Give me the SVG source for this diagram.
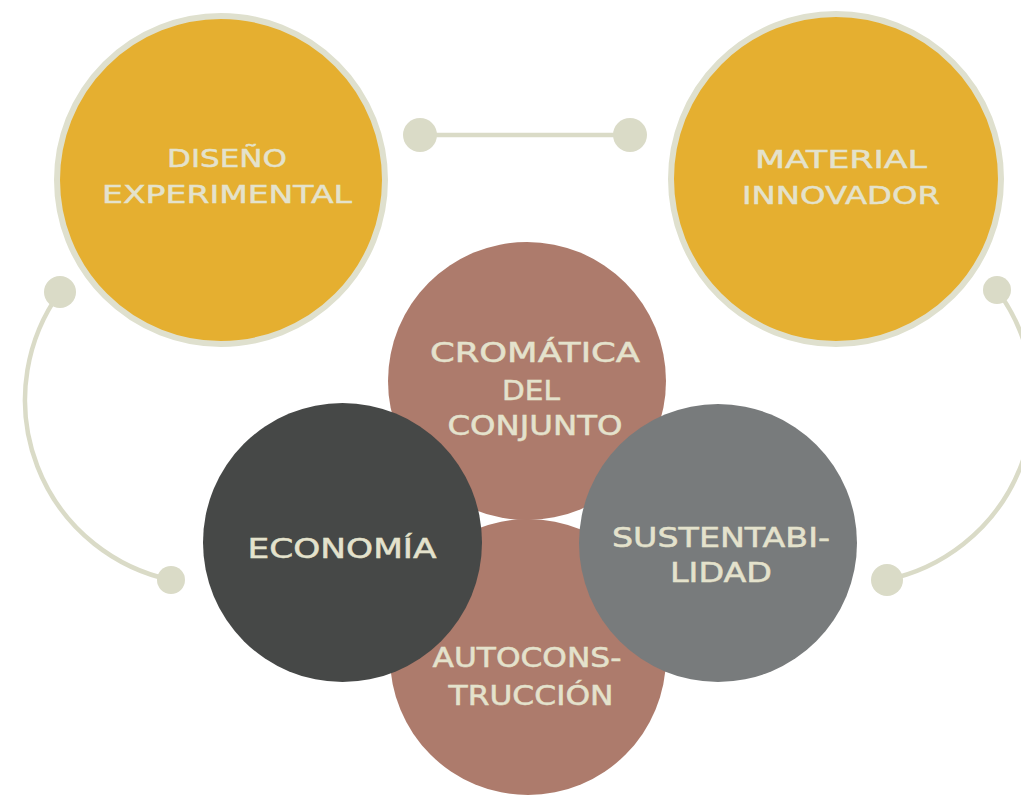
<svg xmlns="http://www.w3.org/2000/svg" width="1021" height="797" viewBox="0 0 1021 797">
<style>
.conn{fill:none;stroke:#dadbc7;stroke-width:4.5;stroke-linecap:round}
.dot{fill:#dadbc7}
.ring{fill:#e5af30;stroke:#dfe0ce;stroke-width:6}
.pink{fill:#ad7b6c}
.dark{fill:#464847}
.gray{fill:#787b7c}
.lbl{font-family:"DejaVu Sans","Liberation Sans",sans-serif;font-weight:normal;fill:#e4e2cc;text-anchor:middle;stroke:#e4e2cc;stroke-width:0.5}
.t25{font-size:25px}
.t26{font-size:26px}
</style>
<rect width="1021" height="797" fill="#ffffff"/>
<g id="connectors">
<line class="conn" x1="420" y1="135" x2="630" y2="135"/>
<circle class="dot" cx="420" cy="135" r="17"/>
<circle class="dot" cx="630" cy="135" r="17"/>
<path class="conn" d="M60,292 A184,184 0 0 0 171,580"/>
<circle class="dot" cx="60" cy="292" r="16"/>
<circle class="dot" cx="171" cy="580" r="14"/>
<path class="conn" d="M997,290 A184,184 0 0 1 886,580"/>
<circle class="dot" cx="997" cy="290" r="14"/>
<circle class="dot" cx="887" cy="580" r="16"/>
</g>
<g id="diseno">
<circle class="ring" cx="221" cy="180" r="164"/>
<text class="lbl t25" x="227" y="167" textLength="120" lengthAdjust="spacingAndGlyphs">DISEÑO</text>
<text class="lbl t25" x="227" y="203" textLength="250" lengthAdjust="spacingAndGlyphs">EXPERIMENTAL</text>
</g>
<g id="material">
<circle class="ring" cx="836" cy="179" r="165"/>
<text class="lbl t25" x="841" y="168" textLength="172" lengthAdjust="spacingAndGlyphs">MATERIAL</text>
<text class="lbl t25" x="841" y="204" textLength="198" lengthAdjust="spacingAndGlyphs">INNOVADOR</text>
</g>
<g id="cromatica">
<circle class="pink" cx="527" cy="381" r="139"/>
<text class="lbl t26" x="535" y="362" textLength="210" lengthAdjust="spacingAndGlyphs">CROMÁTICA</text>
<text class="lbl t26" x="531" y="400" textLength="58" lengthAdjust="spacingAndGlyphs">DEL</text>
<text class="lbl t26" x="535" y="435" textLength="175" lengthAdjust="spacingAndGlyphs">CONJUNTO</text>
</g>
<g id="autoconstruccion">
<circle class="pink" cx="528" cy="657" r="138"/>
<text class="lbl t26" x="527" y="667" textLength="189" lengthAdjust="spacingAndGlyphs">AUTOCONS-</text>
<text class="lbl t26" x="531" y="705" textLength="165" lengthAdjust="spacingAndGlyphs">TRUCCIÓN</text>
</g>
<g id="economia">
<circle class="dark" cx="342.5" cy="542.5" r="139.5"/>
<text class="lbl t26" x="342" y="558" textLength="189" lengthAdjust="spacingAndGlyphs">ECONOMÍA</text>
</g>
<g id="sustentabilidad">
<circle class="gray" cx="718" cy="543" r="139"/>
<text class="lbl t26" x="721" y="547" textLength="218" lengthAdjust="spacingAndGlyphs">SUSTENTABI-</text>
<text class="lbl t26" x="721" y="582" textLength="102" lengthAdjust="spacingAndGlyphs">LIDAD</text>
</g>
</svg>
